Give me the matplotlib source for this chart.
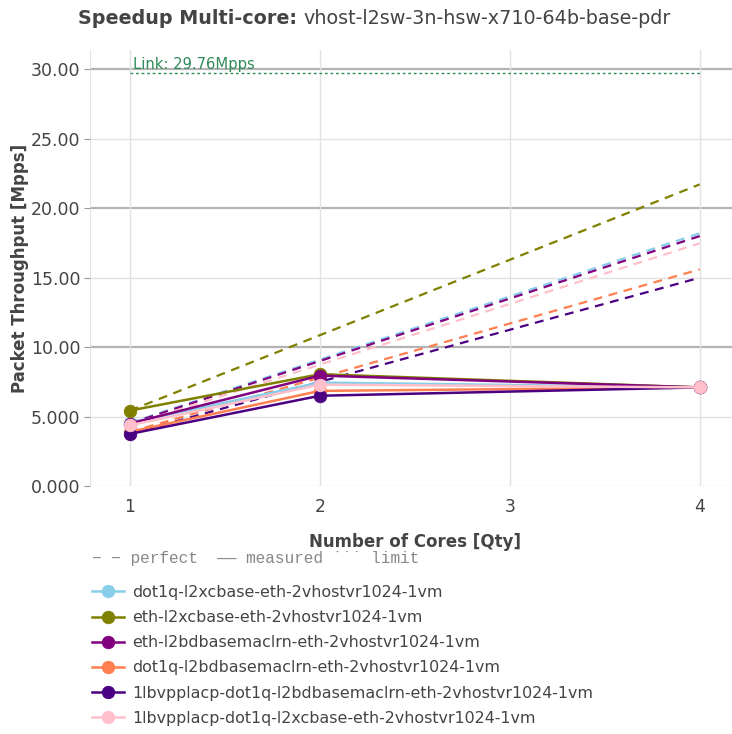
import matplotlib
matplotlib.use("Agg")
import matplotlib.pyplot as plt
import numpy as np

plt.rcParams['font.family'] = ['DejaVu Sans']

# cores on the x axis
cores = [1, 2, 4]

names = [
    "dot1q-l2xcbase-eth-2vhostvr1024-1vm",
    "eth-l2xcbase-eth-2vhostvr1024-1vm",
    "eth-l2bdbasemaclrn-eth-2vhostvr1024-1vm",
    "dot1q-l2bdbasemaclrn-eth-2vhostvr1024-1vm",
    "1lbvpplacp-dot1q-l2bdbasemaclrn-eth-2vhostvr1024-1vm",
    "1lbvpplacp-dot1q-l2xcbase-eth-2vhostvr1024-1vm",
]
colors = ["#87CEEB", "#808000", "#800080", "#FF7F50", "#4B0082", "#FFC0CB"]

# measured throughput [Mpps]
measured = [
    [4.55, 7.45, 7.10],
    [5.43, 8.05, 7.10],
    [4.50, 7.95, 7.10],
    [3.90, 6.85, 7.10],
    [3.75, 6.50, 7.10],
    [4.37, 7.30, 7.10],
]
link_limit = 29.76
yticks = [0, 5, 10, 15, 20, 25, 30]
ytick_labels = ["0.000", "5.000", "10.00", "15.00", "20.00", "25.00", "30.00"]

W, H = 732, 734
fig = plt.figure(figsize=(W / 100, H / 100), dpi=100)
ax = fig.add_axes([90 / W, 1 - 486 / H, (W - 90) / W, (486 - 50) / H])

ax.set_xlim(0.79, 4.17)
ax.set_ylim(0, 31.4)

# grid
for y in yticks:
    if y % 10 == 0 and y > 0:
        ax.axhline(y, color="#b4b4b4", lw=1.6, zorder=0)
    else:
        ax.axhline(y, color="#e2e2e2", lw=1, zorder=0)
for x in [1, 2, 3, 4]:
    ax.axvline(x, color="#e2e2e2", lw=1, zorder=0)
ax.axvline(0.79, color="#e2e2e2", lw=1.5, zorder=0)

for s in ax.spines.values():
    s.set_visible(False)

# link limit
ax.plot([1, 4], [link_limit, link_limit], ls=(0, (2, 2)), color="#2e8b57", lw=1)
ax.text(1.015, link_limit + 0.05, "Link: 29.76Mpps", color="#2e8b57", fontsize=10.6,
        va="bottom", ha="left")

# perfect scaling
for vals, c in zip(measured, colors):
    perf = [vals[0] * n for n in cores]
    ax.plot(cores, perf, ls=(0, (4, 3)), color=c, lw=1.6, zorder=2)

# measured
for vals, c, name in zip(measured, colors, names):
    ax.plot(cores, vals, color=c, lw=1.8, marker="o", ms=9,
            markeredgecolor=c, markeredgewidth=0.6, label=name, zorder=3)

ax.set_xticks([1, 2, 3, 4])
ax.set_xticklabels(["1", "2", "3", "4"])
ax.set_yticks(yticks)
ax.set_yticklabels(ytick_labels)
ax.tick_params(axis="x", length=0, labelsize=12.3, colors="#444444", pad=9)
ax.tick_params(axis="y", length=4, color="#999999", labelsize=12.5,
               labelcolor="#444444", pad=3)

ax.set_xlabel("Number of Cores [Qty]", fontsize=12, fontweight="bold",
              color="#444444")
ax.xaxis.set_label_coords((415 - 90) / (W - 90), -(542 - 486) / (486 - 50))
ax.xaxis.label.set_va("center")
ax.set_ylabel("Packet Throughput [Mpps]", fontsize=12, fontweight="bold",
              color="#444444")
ax.yaxis.set_label_coords(-(90 - 20) / (W - 90), (486 - 268) / (486 - 50))
ax.yaxis.label.set_va("center")

# title: bold part then normal part
t1 = fig.text(78 / W, 1 - 18 / H, "Speedup Multi-core: ", fontsize=13.8,
              fontweight="bold", color="#444444", ha="left", va="center")
fig.canvas.draw()
bb = t1.get_window_extent()
fig.text(bb.x1 / W, 1 - 18 / H, "vhost-l2sw-3n-hsw-x710-64b-base-pdr", fontsize=13.8,
         color="#444444", ha="left", va="center")

# line-style key
fig.text(92 / W, 1 - 558 / H, "\u2212 \u2212 perfect  \u2014\u2014 measured \u02d9\u02d9\u02d9 limit",
         family="Liberation Mono", fontsize=11.6, color="#888888", va="center")

leg = ax.legend(loc="upper left", bbox_to_anchor=(92 / W, 1 - 585 / H),
                bbox_transform=fig.transFigure, frameon=False, fontsize=11.4,
                handlelength=2.0, handletextpad=0.55, labelspacing=0.64,
                borderaxespad=0, borderpad=0)
for t in leg.get_texts():
    t.set_color("#444444")

fig.savefig("out.png", dpi=100)
